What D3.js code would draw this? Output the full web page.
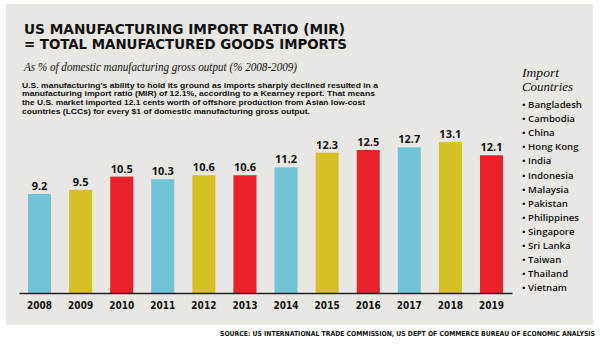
<!DOCTYPE html>
<html>
<head>
  <style>
    body { margin: 0; background: #fff; }
    svg { display: block; }
  </style>
</head>
<body>
  <svg id="chart" width="600" height="344"></svg>
  <script src="https://cdnjs.cloudflare.com/ajax/libs/d3/7.8.5/d3.min.js"></script>
  <script>
    const years = ["2008", "2009", "2010", "2011", "2012", "2013", "2014", "2015", "2016", "2017", "2018", "2019"];
    const mir = [9.2, 9.5, 10.5, 10.3, 10.6, 10.6, 11.2, 12.3, 12.5, 12.7, 13.1, 12.1];
    const countries = ["Bangladesh", "Cambodia", "China", "Hong Kong", "India", "Indonesia", "Malaysia",
      "Pakistan", "Philippines", "Singapore", "Sri Lanka", "Taiwan", "Thailand", "Vietnam"];
    const titleLines = ["US MANUFACTURING IMPORT RATIO (MIR)", "= TOTAL MANUFACTURED GOODS IMPORTS"];
    const subtitle = "As % of domestic manufacturing gross output (% 2008-2009)";
    const paragraph = [
      "U.S. manufacturing\u2019s ability to hold its ground as imports sharply declined resulted in a",
      "manufacturing import ratio (MIR) of 12.1%, according to a Kearney report. That means",
      "the U.S. market imported 12.1 cents worth of offshore production from Asian low-cost",
      "countries (LCCs) for every $1 of domestic manufacturing gross output."
    ];
    const legendTitle = ["Import", "Countries"];
    const source = "SOURCE: US INTERNATIONAL TRADE COMMISSION, US DEPT OF COMMERCE BUREAU OF ECONOMIC ANALYSIS";

    const palette = ["#72c3d6", "#d7bf26", "#e8212b"];

    const svg = d3.select("#chart");

    // grey panel
    svg.append("rect")
      .attr("x", 6).attr("y", 4)
      .attr("width", 587).attr("height", 321)
      .attr("fill", "#e8e7e3");

    // title
    const titleWidths = [321, 323];
    svg.selectAll(".title")
      .data(titleLines)
      .join("text")
      .attr("class", "title")
      .attr("x", 24)
      .attr("y", (d, i) => 34 + i * 15)
      .attr("textLength", (d, i) => titleWidths[i])
      .attr("lengthAdjust", "spacingAndGlyphs")
      .style("font-family", "'DejaVu Sans Condensed', 'DejaVu Sans', sans-serif")
      .style("font-weight", "bold")
      .style("font-size", "13.5px")
      .style("fill", "#111")
      .text(d => d);

    svg.append("text")
      .attr("x", 24).attr("y", 71)
      .attr("textLength", 273)
      .attr("lengthAdjust", "spacingAndGlyphs")
      .style("font-family", "'Liberation Serif', 'DejaVu Serif', serif")
      .style("font-style", "italic")
      .style("font-size", "12.5px")
      .style("fill", "#111")
      .text(subtitle);

    const paraWidths = [356, 353, 343, 288];
    svg.selectAll(".para")
      .data(paragraph)
      .join("text")
      .attr("class", "para")
      .attr("x", 22)
      .attr("y", (d, i) => 87.5 + i * 8.8)
      .attr("textLength", (d, i) => paraWidths[i])
      .attr("lengthAdjust", "spacingAndGlyphs")
      .style("font-family", "'Liberation Sans', Arial, sans-serif")
      .style("font-weight", "bold")
      .style("font-size", "7.6px")
      .style("fill", "#111")
      .text(d => d);

    // bars
    const x = d3.scaleBand()
      .domain(years)
      .range([19, 512])
      .paddingInner(0.44)
      .paddingOuter(0.22);

    const y = d3.scaleLinear()
      .domain([1.75, 13.1])
      .range([293, 142]);

    svg.selectAll(".bar")
      .data(mir)
      .join("rect")
      .attr("class", "bar")
      .attr("x", (d, i) => x(years[i]))
      .attr("y", d => y(d))
      .attr("width", x.bandwidth())
      .attr("height", d => y(1.75) - y(d))
      .attr("fill", (d, i) => palette[i % 3]);

    svg.selectAll(".val")
      .data(mir)
      .join("text")
      .attr("class", "val")
      .attr("x", (d, i) => x(years[i]) + x.bandwidth() / 2)
      .attr("y", d => y(d) - 4)
      .attr("text-anchor", "middle")
      .style("font-family", "'Open Sans', 'Liberation Sans', sans-serif")
      .style("font-weight", "bold")
      .style("font-size", "11px")
      .style("fill", "#111")
      .text(d => d.toFixed(1));

    const xAxis = svg.append("g")
      .attr("transform", "translate(0,293)")
      .call(d3.axisBottom(x).tickSize(0).tickPadding(9));
    xAxis.select(".domain")
      .attr("stroke", "#222")
      .attr("stroke-width", 1.6);
    xAxis.selectAll("text")
      .style("font-family", "'DejaVu Sans Condensed', 'DejaVu Sans', sans-serif")
      .style("font-weight", "bold")
      .style("font-size", "10px")
      .style("fill", "#111");

    // legend
    const legTitleWidths = [37, 51];
    svg.selectAll(".legTitle")
      .data(legendTitle)
      .join("text")
      .attr("class", "legTitle")
      .attr("x", 522)
      .attr("y", (d, i) => 77 + i * 13.5)
      .attr("textLength", (d, i) => legTitleWidths[i])
      .attr("lengthAdjust", "spacingAndGlyphs")
      .style("font-family", "'Liberation Serif', 'DejaVu Serif', serif")
      .style("font-style", "italic")
      .style("font-size", "11.6px")
      .style("fill", "#111")
      .text(d => d);

    svg.selectAll(".country")
      .data(countries)
      .join("text")
      .attr("class", "country")
      .attr("x", 522)
      .attr("y", (d, i) => 108 + i * 14.1)
      .style("font-family", "'Open Sans', 'Liberation Sans', sans-serif")
      .style("font-weight", 600)
      .style("font-size", "9.6px")
      .style("fill", "#111")
      .text(d => "\u2022 " + d);

    // source
    svg.append("text")
      .attr("x", 595).attr("y", 336)
      .attr("text-anchor", "end")
      .attr("textLength", 375)
      .attr("lengthAdjust", "spacingAndGlyphs")
      .style("font-family", "'DejaVu Sans Condensed', 'DejaVu Sans', sans-serif")
      .style("font-weight", "bold")
      .style("font-size", "6.8px")
      .style("fill", "#111")
      .text(source);
  </script>
</body>
</html>
